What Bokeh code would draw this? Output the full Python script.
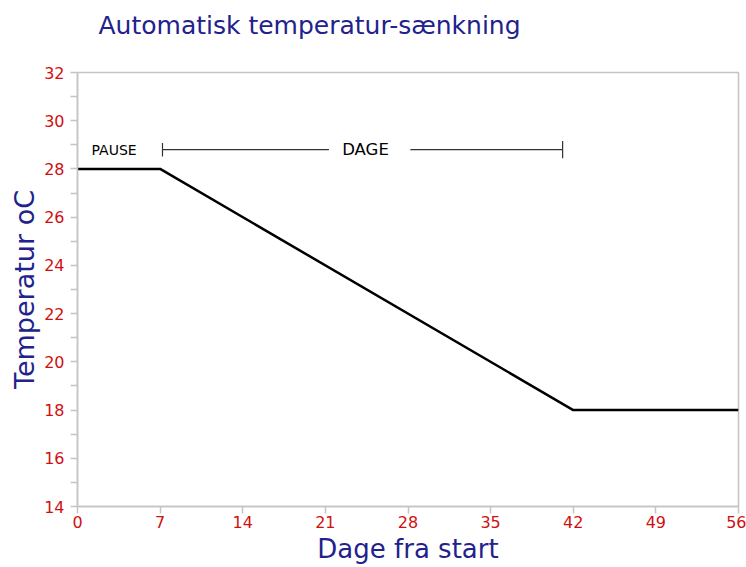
from bokeh.plotting import figure
from bokeh.models import Range1d, FixedTicker, Title
from bokeh.embed import file_html
from bokeh.resources import INLINE
from bokeh.core.properties import value

# ---- data ----
days = [0, 7, 42, 56]
temps = [28, 28, 18, 18]

x_ticks = [0, 7, 14, 21, 28, 35, 42, 49, 56]
y_ticks = [14, 16, 18, 20, 22, 24, 26, 28, 30, 32]
y_minor = [15, 17, 19, 21, 23, 25, 27, 29, 31]

# annotation (bracket "PAUSE |---- DAGE ----|")
pause_text = "PAUSE"
pause_x = 3.1
dage_text = "DAGE"
dage_x = 24.4
bracket_y = 28.8
bracket_x0 = [7.2, 28.2]
bracket_x1 = [21.3, 41.1]
cap_x = [7.2, 41.1]
cap_half = [0.28, 0.36]

title_text = "Automatisk temperatur-sænkning"
xlabel = "Dage fra start"
ylabel = "Temperatur oC"

FONT = "DejaVu Sans"
NAVY = "#22228c"
RED = "#d01010"
GREY = "#c4c4c4"

p = figure(width=746, height=567, output_backend="svg", toolbar_location=None,
           x_range=Range1d(0, 56), y_range=Range1d(14, 32),
           min_border_left=77, min_border_right=8, min_border_top=72, min_border_bottom=61)

p.grid.visible = False
p.outline_line_color = GREY
p.outline_line_width = 1.5
p.background_fill_color = "white"
p.border_fill_color = "white"

# real title (outermost) plus an invisible spacer title next to the frame
p.title.text = title_text
p.title.text_font = FONT
p.title.text_font_size = "25px"
p.title.text_font_style = "normal"
p.title.text_color = NAVY
p.title.align = "left"
p.title.offset = 21
p.title.standoff = 0
p.add_layout(Title(text="\u00a0", text_font=FONT, text_font_size="27px", standoff=0), "above")

for ax in (p.xaxis[0], p.yaxis[0]):
    ax.axis_line_color = GREY
    ax.axis_line_width = 1.5
    ax.major_tick_line_color = GREY
    ax.major_tick_line_width = 1.5
    ax.minor_tick_line_color = GREY
    ax.minor_tick_line_width = 1.5
    ax.major_tick_in = 0
    ax.major_tick_out = 7
    ax.minor_tick_in = 0
    ax.minor_tick_out = 7
    ax.major_label_text_color = RED
    ax.major_label_text_font = FONT
    ax.major_label_text_font_size = "16px"
    ax.axis_label_text_font = FONT
    ax.axis_label_text_font_style = "normal"
    ax.axis_label_text_color = NAVY

p.xaxis[0].ticker = FixedTicker(ticks=x_ticks, minor_ticks=[])
p.yaxis[0].ticker = FixedTicker(ticks=y_ticks, minor_ticks=y_minor)
p.xaxis[0].axis_label = xlabel
p.yaxis[0].axis_label = ylabel
p.xaxis[0].axis_label_text_font_size = "26px"
p.yaxis[0].axis_label_text_font_size = "27px"
p.xaxis[0].major_label_standoff = 2
p.yaxis[0].major_label_standoff = 6
p.xaxis[0].axis_label_standoff = 3
p.yaxis[0].axis_label_standoff = 1

# main curve
p.line(days, temps, line_color="black", line_width=2.5)

# bracket annotation
p.segment(x0=bracket_x0, y0=[bracket_y] * 2, x1=bracket_x1, y1=[bracket_y] * 2,
          line_color="#333333", line_width=1.2)
p.segment(x0=cap_x, y0=[bracket_y - h for h in cap_half], x1=cap_x,
          y1=[bracket_y + h for h in cap_half], line_color="#333333", line_width=1.2)
p.text(x=[pause_x], y=[bracket_y], text=[pause_text], text_align="center",
       text_baseline="middle", text_font=value(FONT), text_font_size="14px", text_color="black")
p.text(x=[dage_x], y=[bracket_y], text=[dage_text], text_align="center",
       text_baseline="middle", text_font=value(FONT), text_font_size="16.5px", text_color="black")

open("out.html", "w").write(file_html(p, INLINE))
